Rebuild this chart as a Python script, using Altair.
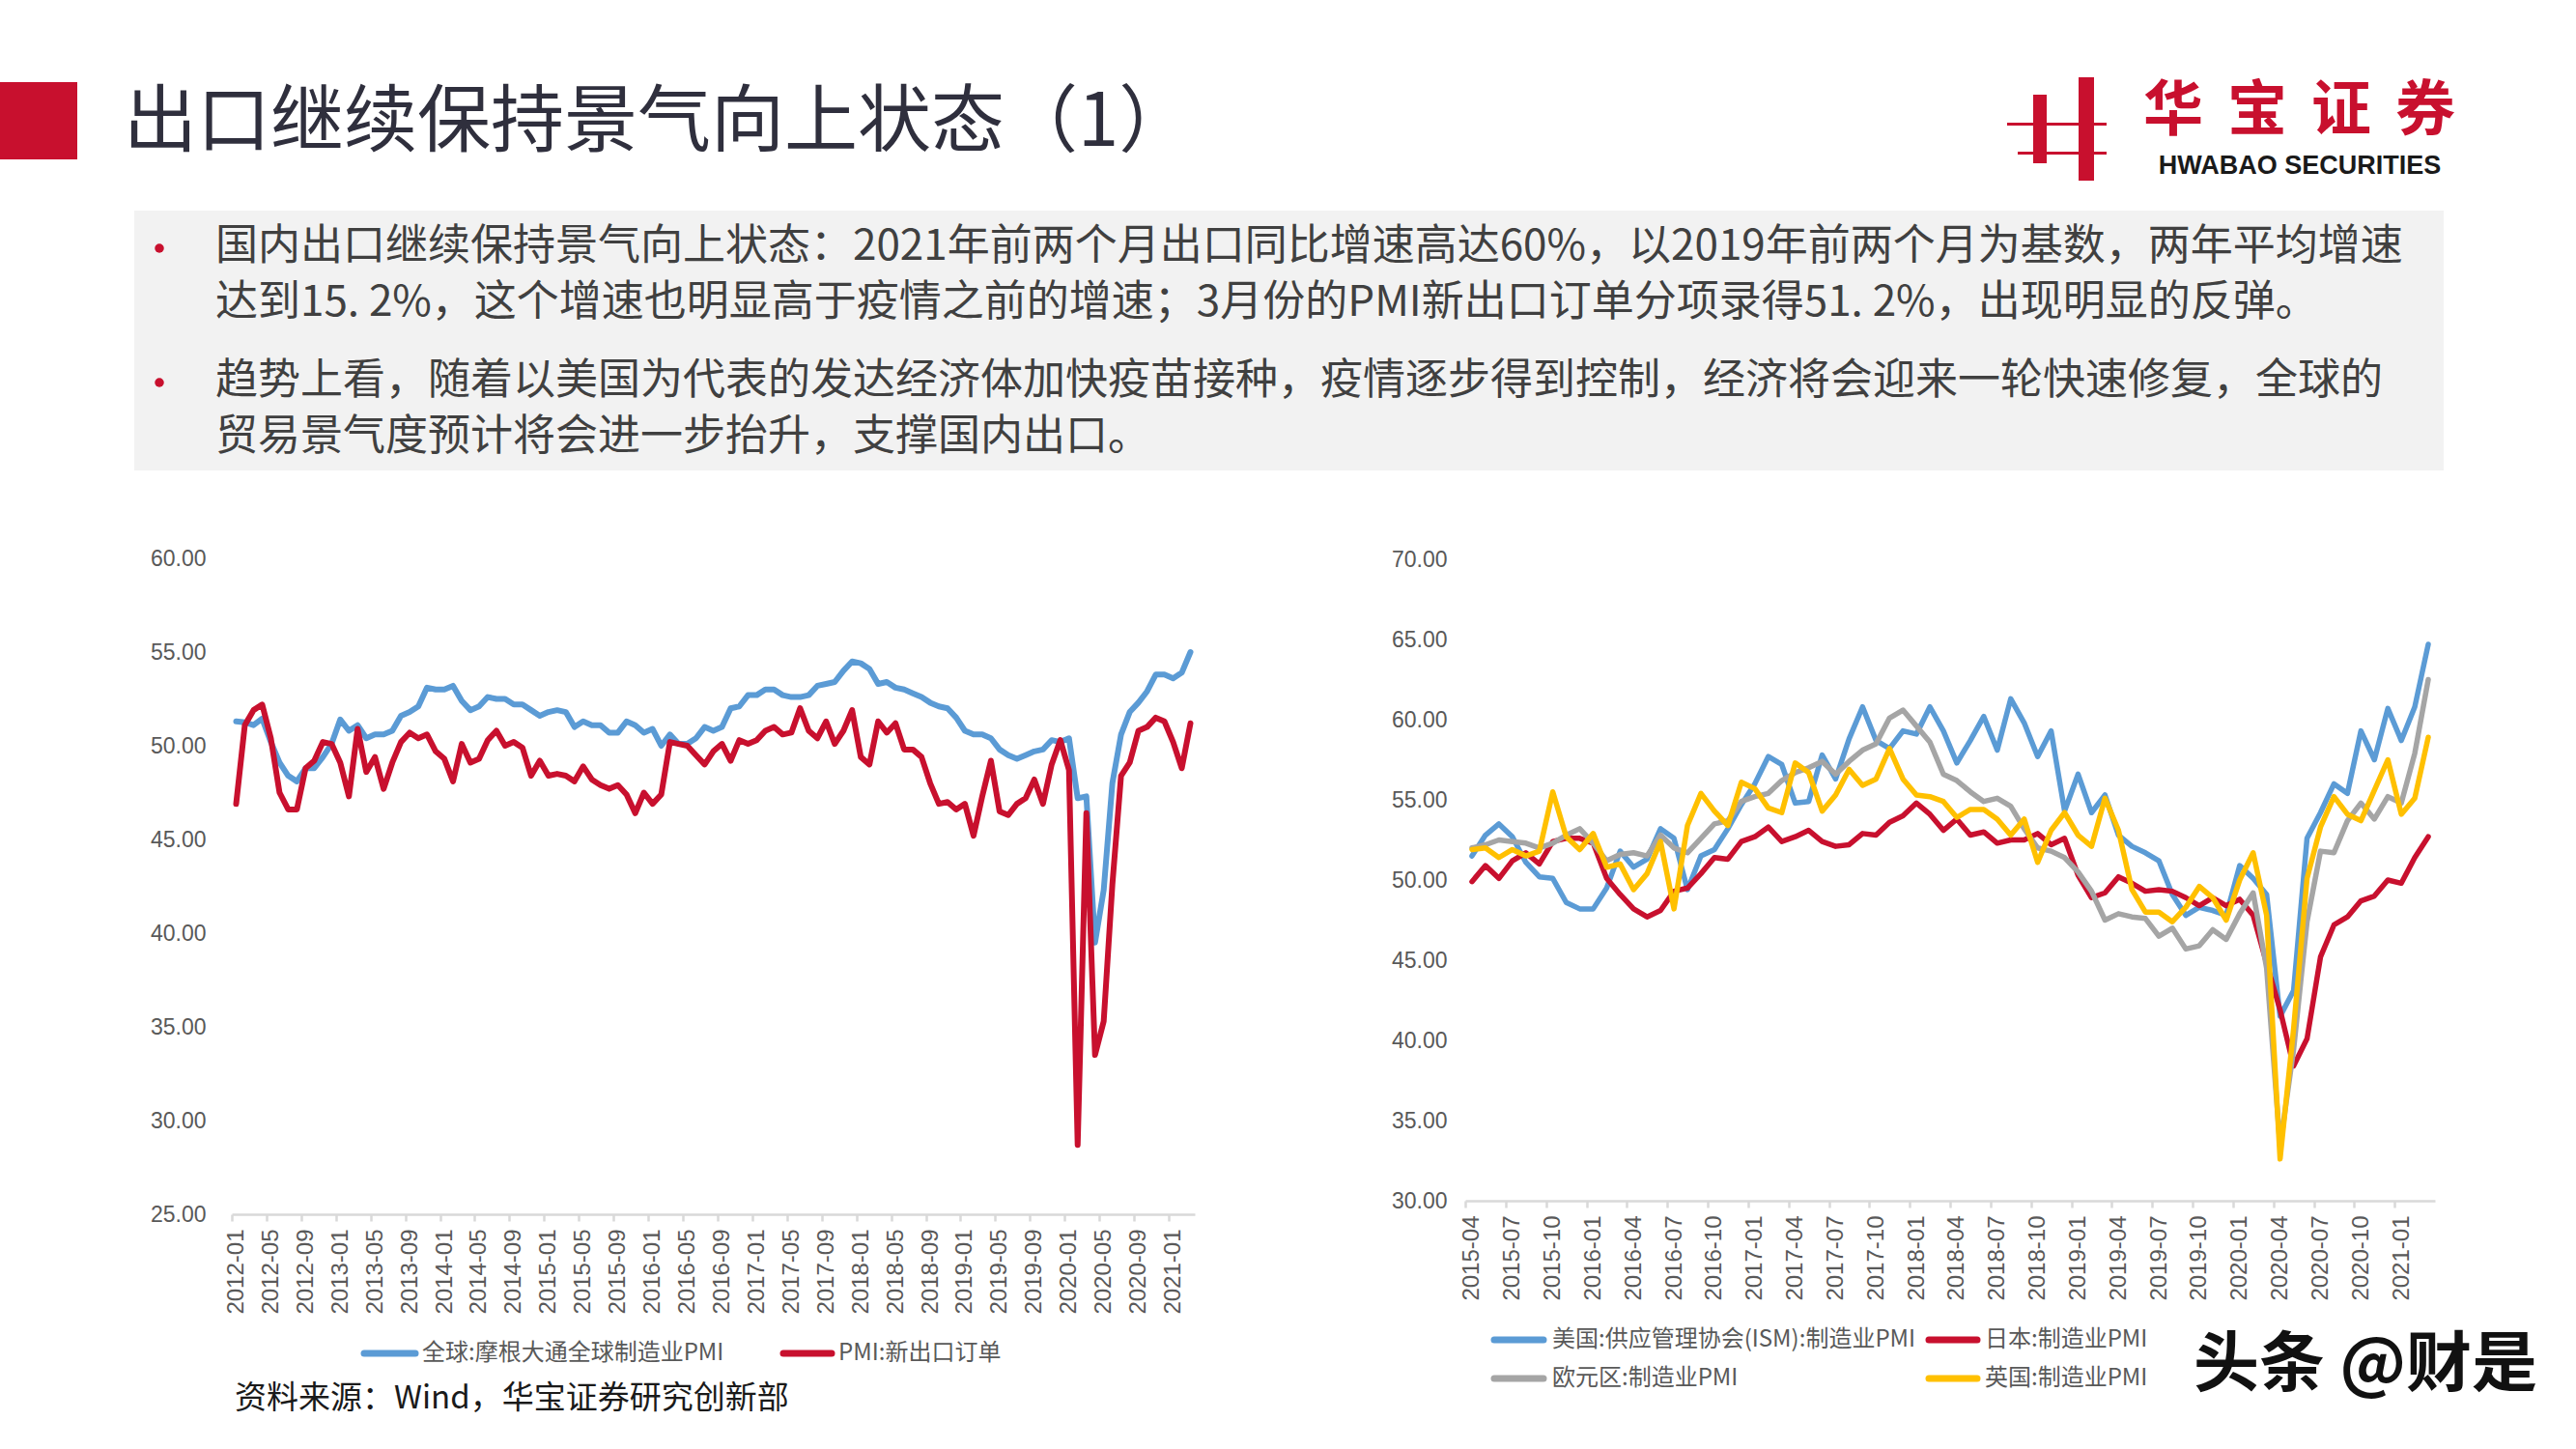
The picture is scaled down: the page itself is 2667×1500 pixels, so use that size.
import altair as alt
import pandas as pd

CJK = "Noto Sans CJK SC"
LAT = "Liberation Sans"
RED = "#C8102E"
BLUE = "#5B9BD5"
GRAY = "#A5A5A5"
YELLOW = "#FFC000"
AXIS_GRAY = "#D9D9D9"
LABEL_GRAY = "#595959"

# ---------------- texts ----------------
title_text = "出口继续保持景气向上状态（1）"
bullet_lines = [
    "国内出口继续保持景气向上状态：2021年前两个月出口同比增速高达60%，以2019年前两个月为基数，两年平均增速",
    "达到15. 2%，这个增速也明显高于疫情之前的增速；3月份的PMI新出口订单分项录得51. 2%，出现明显的反弹。",
    "趋势上看，随着以美国为代表的发达经济体加快疫苗接种，疫情逐步得到控制，经济将会迎来一轮快速修复，全球的",
    "贸易景气度预计将会进一步抬升，支撑国内出口。",
]
source_text = "资料来源：Wind，华宝证券研究创新部"
logo_chars = ["华", "宝", "证", "券"]
logo_en = "HWABAO SECURITIES"
watermark = "头条 @财是"

# ---------------- left chart data ----------------
left_months = [f"{y}-{m:02d}" for y in range(2012, 2022) for m in range(1, 13)][:111]
left_ticks = left_months[::4]
left_series = ["全球:摩根大通全球制造业PMI", "PMI:新出口订单"]
left_colors = [BLUE, RED]
left_y_ticks = [25, 30, 35, 40, 45, 50, 55, 60]

global_pmi = [
    51.3, 51.25, 51.1, 51.45, 50.2, 49.1, 48.4, 48.1, 48.8, 48.8, 49.4, 50.1,
    51.4, 50.8, 51.1, 50.4, 50.6, 50.6, 50.8, 51.6, 51.8, 52.1, 53.1, 53.0,
    53.0, 53.2, 52.4, 51.9, 52.1, 52.6, 52.5, 52.5, 52.2, 52.2, 51.9, 51.6,
    51.8, 51.9, 51.8, 51.0, 51.3, 51.1, 51.1, 50.7, 50.7, 51.3, 51.1, 50.7,
    50.9, 50.0, 50.6, 50.1, 50.1, 50.4, 51.0, 50.8, 51.0, 52.0, 52.1, 52.7,
    52.7, 53.0, 53.0, 52.7, 52.6, 52.6, 52.7, 53.2, 53.3, 53.4, 54.0, 54.5,
    54.4, 54.1, 53.3, 53.4, 53.1, 53.0, 52.8, 52.6, 52.3, 52.1, 52.0, 51.5,
    50.8, 50.6, 50.6, 50.4, 49.8, 49.5, 49.3, 49.5, 49.7, 49.8, 50.3, 50.2,
    50.4, 47.2, 47.3, 39.5, 42.3, 48.0, 50.6, 51.8, 52.3, 52.9, 53.8, 53.8,
    53.6, 53.9, 55.0,
]
export_orders = [
    46.9, 51.1, 51.9, 52.2, 50.4, 47.5, 46.6, 46.6, 48.8, 49.2, 50.2, 50.1,
    49.1, 47.3, 50.9, 48.6, 49.4, 47.7, 49.1, 50.2, 50.7, 50.4, 50.6, 49.7,
    49.3, 48.1, 50.1, 49.1, 49.3, 50.3, 50.8, 50.0, 50.2, 49.9, 48.4, 49.2,
    48.4, 48.5, 48.4, 48.1, 48.9, 48.2, 47.9, 47.7, 47.9, 47.4, 46.4, 47.5,
    46.9, 47.4, 50.2, 50.1, 50.0, 49.5, 49.0, 49.7, 50.1, 49.2, 50.3, 50.1,
    50.3, 50.8, 51.0, 50.6, 50.7, 52.0, 50.8, 50.4, 51.3, 50.1, 50.8, 51.9,
    49.4, 49.0, 51.3, 50.7, 51.2, 49.8, 49.8, 49.4, 48.0, 46.9, 47.0, 46.6,
    46.9, 45.2, 47.3, 49.2, 46.5, 46.3, 46.9, 47.2, 48.2, 46.9, 49.0, 50.3,
    48.7, 28.7, 46.4, 33.5, 35.3, 42.6, 48.4, 49.1, 50.8, 51.0, 51.5, 51.3,
    50.2, 48.8, 51.2,
]

# ---------------- right chart data ----------------
right_months = [f"{y}-{m:02d}" for y in range(2015, 2022) for m in range(1, 13)][3:75]
right_ticks = right_months[::3]
right_series = ["美国:供应管理协会(ISM):制造业PMI", "日本:制造业PMI", "欧元区:制造业PMI", "英国:制造业PMI"]
right_colors = [BLUE, RED, GRAY, YELLOW]
right_y_ticks = [30, 35, 40, 45, 50, 55, 60, 65, 70]

us_ism = [
    51.5, 52.8, 53.5, 52.7, 51.1, 50.2, 50.1, 48.6, 48.2,
    48.2, 49.5, 51.8, 50.8, 51.3, 53.2, 52.6, 49.4, 51.5, 51.9, 53.2, 54.7,
    56.0, 57.7, 57.2, 54.8, 54.9, 57.8, 56.3, 58.8, 60.8, 58.7, 58.2, 59.3,
    59.1, 60.8, 59.3, 57.3, 58.7, 60.2, 58.1, 61.3, 59.8, 57.7, 59.3, 54.3,
    56.6, 54.2, 55.3, 52.8, 52.1, 51.7, 51.2, 49.1, 47.8, 48.3, 48.1, 47.8,
    50.9, 50.1, 49.1, 41.5, 43.1, 52.6, 54.2, 56.0, 55.4, 59.3, 57.5, 60.7,
    58.7, 60.8, 64.7,
]
japan_pmi = [
    49.9, 50.9, 50.1, 51.2, 51.7, 51.0, 52.4, 52.6, 52.6,
    52.3, 50.1, 49.1, 48.2, 47.7, 48.1, 49.3, 49.5, 50.4, 51.4, 51.3, 52.4,
    52.7, 53.3, 52.4, 52.7, 53.1, 52.4, 52.1, 52.2, 52.9, 52.8, 53.6, 54.0,
    54.8, 54.1, 53.1, 53.8, 52.8, 53.0, 52.3, 52.5, 52.5, 52.9, 52.2, 52.6,
    50.3, 48.9, 49.2, 50.2, 49.8, 49.3, 49.4, 49.3, 48.9, 48.4, 48.9, 48.4,
    48.8, 47.8, 44.8, 41.9, 38.4, 40.1, 45.2, 47.2, 47.7, 48.7, 49.0, 50.0,
    49.8, 51.4, 52.7,
]
euro_pmi = [
    52.0, 52.2, 52.5, 52.4, 52.3, 52.0, 52.3, 52.8, 53.2,
    52.3, 51.2, 51.6, 51.7, 51.5, 52.8, 52.0, 51.7, 52.6, 53.5, 53.7, 54.9,
    55.2, 55.4, 56.2, 56.7, 57.0, 57.4, 56.6, 57.4, 58.1, 58.5, 60.1, 60.6,
    59.6, 58.6, 56.6, 56.2, 55.5, 54.9, 55.1, 54.6, 53.2, 52.0, 51.8, 51.4,
    50.5, 49.3, 47.5, 47.9, 47.7, 47.6, 46.5, 47.0, 45.7, 45.9, 46.9, 46.3,
    47.9, 49.2, 44.5, 33.4, 39.4, 47.4, 51.8, 51.7, 53.7, 54.8, 53.8, 55.2,
    54.8, 57.9, 62.5,
]
uk_pmi = [
    51.9, 52.0, 51.4, 51.9, 51.5, 51.8, 55.5, 52.7, 51.9,
    52.9, 50.8, 51.0, 49.4, 50.4, 52.4, 48.2, 53.4, 55.4, 54.3, 53.4, 56.1,
    55.7, 54.5, 54.2, 57.3, 56.7, 54.3, 55.3, 56.9, 55.9, 56.3, 58.2, 56.3,
    55.3, 55.2, 54.9, 53.9, 54.4, 54.4, 53.8, 52.8, 53.8, 51.1, 53.1, 54.2,
    52.8, 52.1, 55.1, 53.1, 49.4, 48.0, 48.0, 47.4, 48.3, 49.6, 48.9, 47.5,
    50.0, 51.7, 47.8, 32.6, 40.7, 50.1, 53.3, 55.2, 54.1, 53.7, 55.6, 57.5,
    54.1, 55.1, 58.9,
]

left_df = pd.DataFrame({
    "m1": left_months * 2,
    "v1": global_pmi + export_orders,
    "s1": [left_series[0]] * len(left_months) + [left_series[1]] * len(left_months),
})
right_values = [us_ism, japan_pmi, euro_pmi, uk_pmi]
right_df = pd.DataFrame({
    "m2": right_months * 4,
    "v2": sum(right_values, []),
    "s2": sum([[s] * len(right_months) for s in right_series], []),
})


def x_axis(values, offset, half):
    return alt.Axis(values=values, orient="bottom", offset=offset, labelAngle=270,
                    labelFont=LAT, labelFontSize=24, labelColor=LABEL_GRAY, labelPadding=8,
                    tickSize=7, tickColor=AXIS_GRAY, tickWidth=2.5, domainColor=AXIS_GRAY,
                    domainWidth=2.5, tickOffset=-half, labelOffset=half, title=None,
                    grid=False, labelOverlap=False)


def y_axis(values, offset, pad):
    return alt.Axis(orient="left", offset=offset, values=values, format=".2f",
                    labelFont=LAT, labelFontSize=23, labelColor=LABEL_GRAY, labelPadding=pad,
                    ticks=False, domain=False, grid=False, title=None)


def one_row():
    return pd.DataFrame({"k": [0]})


def text(txt, x, y, size, color, font=CJK, weight="normal", align="left"):
    return alt.Chart(pd.DataFrame({"t": [txt]})).mark_text(
        align=align, baseline="middle", fontSize=size, font=font, color=color, fontWeight=weight
    ).encode(x=alt.value(x), y=alt.value(y), text="t:N")


def rect(x, x2, y, y2, color):
    return alt.Chart(one_row()).mark_rect(color=color).encode(
        x=alt.value(x), x2=alt.value(x2), y=alt.value(y), y2=alt.value(y2))


def swatch(x, x2, y, color):
    return alt.Chart(one_row()).mark_rule(color=color, strokeWidth=7, strokeCap="round").encode(
        x=alt.value(x), x2=alt.value(x2), y=alt.value(y))


layers = []
# header
layers.append(rect(0, 80, 85, 165, RED))
layers.append(text(title_text, 128, 128, 76, "#2F2F3D"))
# logo icon
layers.append(rect(2105, 2119, 98, 169, RED))
layers.append(rect(2152, 2168, 80, 187, RED))
layers.append(rect(2078, 2181, 127, 130, RED))
layers.append(rect(2089, 2181, 157, 160, RED))
for i, ch in enumerate(logo_chars):
    layers.append(text(ch, 2250 + 87 * i, 116, 62, RED, weight="bold", align="center"))
layers.append(text(logo_en, 2381, 172, 27, "#1A1A1A", font=LAT, weight="bold", align="center"))

# text box
layers.append(rect(139, 2530, 218, 487, "#F2F2F2"))
for by in (257, 396):
    layers.append(alt.Chart(one_row()).mark_circle(color=RED, size=90, opacity=1).encode(
        x=alt.value(165), y=alt.value(by)))
for line, ly in zip(bullet_lines, (256, 314, 395, 453)):
    layers.append(text(line, 223, ly, 44, "#404040"))

# left chart
left_lines = alt.Chart(left_df).mark_line(strokeWidth=6, strokeJoin="round", strokeCap="round").encode(
    x=alt.X("m1:O", sort=left_months,
            scale=alt.Scale(type="point", range=[240, 1237], padding=0.5),
            axis=x_axis(left_ticks, -243, 997 / 111 / 2)),
    y=alt.Y("v1:Q", scale=alt.Scale(domain=[25, 60], range=[1257, 578], nice=False, zero=False),
            axis=y_axis(left_y_ticks, -240, 27)),
    color=alt.Color("s1:N", scale=alt.Scale(domain=left_series, range=left_colors), legend=None),
)
layers.append(left_lines)

# right chart
right_lines = alt.Chart(right_df).mark_line(strokeWidth=5.5, strokeJoin="round", strokeCap="round").encode(
    x=alt.X("m2:O", sort=right_months,
            scale=alt.Scale(type="point", range=[1517, 2521], padding=0.5),
            axis=x_axis(right_ticks, -257, 1004 / 72 / 2)),
    y=alt.Y("v2:Q", scale=alt.Scale(domain=[30, 70], range=[1243, 579], nice=False, zero=False),
            axis=y_axis(right_y_ticks, -1517, 19)),
    color=alt.Color("s2:N", scale=alt.Scale(domain=right_series, range=right_colors), legend=None),
)
layers.append(right_lines)

# legends (drawn)
layers.append(swatch(377, 430, 1401, left_colors[0]))
layers.append(text(left_series[0], 437, 1401, 24, LABEL_GRAY))
layers.append(swatch(811, 861, 1401, left_colors[1]))
layers.append(text(left_series[1], 868, 1401, 24, LABEL_GRAY))

rx = [(1547, 1598, 1607), (1997, 2047, 2055)]
ry = [1387, 1427]
for idx, (name, col) in enumerate(zip(right_series, right_colors)):
    r, c = divmod(idx, 2)
    x1, x2, tx = rx[c]
    layers.append(swatch(x1, x2, ry[r], col))
    layers.append(text(name, tx, ry[r], 24, LABEL_GRAY))

layers.append(text(source_text, 243, 1448, 33, "#1A1A1A"))
layers.append(text(watermark, 2271, 1415, 68, "#111111", weight="bold"))

chart = alt.layer(*layers).resolve_scale(
    x="independent", y="independent", color="independent"
).properties(
    width=2667, height=1500, padding=0,
    autosize=alt.AutoSizeParams(type="none"),
    background="white",
).configure_view(stroke=None)

chart.save("out.html", embed_options={"renderer": "svg", "actions": False})
